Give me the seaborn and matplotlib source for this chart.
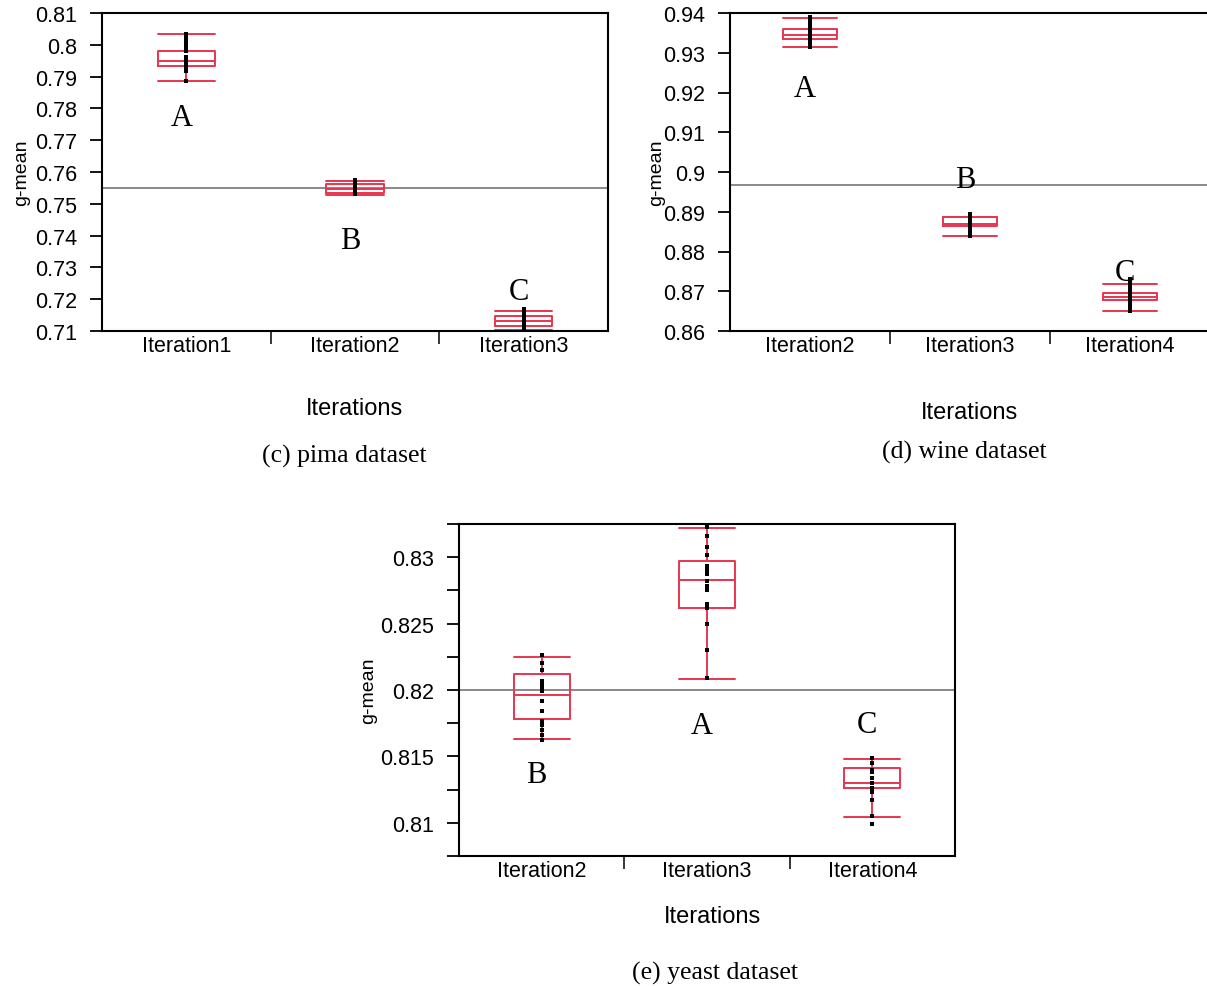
import matplotlib
matplotlib.use("Agg")
import matplotlib.pyplot as plt
import numpy as np
import pandas as pd
import seaborn as sns
from matplotlib.ticker import FixedLocator, FuncFormatter, MultipleLocator

sns.set_theme(style="white")
plt.rcParams["font.family"] = ["Liberation Sans", "DejaVu Sans"]

# ---------------- data ----------------
# (c) pima dataset
pima_iters = ["Iteration1", "Iteration2", "Iteration3"]
pima_whislo = [0.7885, 0.7528, 0.7104]
pima_q1 = [0.7934, 0.7534, 0.7115]
pima_med = [0.7948, 0.7548, 0.7131]
pima_q3 = [0.7981, 0.7562, 0.7148]
pima_whishi = [0.8034, 0.7572, 0.7162]
pima_points_1 = [0.8034, 0.8025, 0.8018, 0.8010, 0.8003, 0.7995, 0.7988, 0.7980,
                 0.7962, 0.7955, 0.7948, 0.7940, 0.7932, 0.7925, 0.7918, 0.7885]
pima_points_2 = [0.7575, 0.7568, 0.7562, 0.7556, 0.7551, 0.7546, 0.7541, 0.7536, 0.7532]
pima_points_3 = [0.7169, 0.7160, 0.7152, 0.7145, 0.7138, 0.7131, 0.7124, 0.7117, 0.7110, 0.7103]
pima_letters = ["A", "B", "C"]
pima_letter_y = [0.7770, 0.7385, 0.7225]
pima_mean = 0.755

# (d) wine dataset
wine_iters = ["Iteration2", "Iteration3", "Iteration4"]
wine_whislo = [0.9315, 0.8840, 0.8651]
wine_q1 = [0.9335, 0.8865, 0.8679]
wine_med = [0.9345, 0.8870, 0.8686]
wine_q3 = [0.9360, 0.8886, 0.8696]
wine_whishi = [0.9387, 0.8888, 0.8718]
wine_points_2 = [0.9390, 0.9380, 0.9370, 0.9361, 0.9352, 0.9342, 0.9332, 0.9322, 0.9314]
wine_points_3 = [0.8894, 0.8886, 0.8878, 0.8870, 0.8862, 0.8854, 0.8846, 0.8838]
wine_points_4 = [0.8730, 0.8720, 0.8710, 0.8700, 0.8690, 0.8680, 0.8670, 0.8660, 0.8650]
wine_letters = ["A", "B", "C"]
wine_letter_y = [0.9210, 0.8982, 0.8748]
wine_mean = 0.8967

# (e) yeast dataset
yeast_iters = ["Iteration2", "Iteration3", "Iteration4"]
yeast_whislo = [0.8163, 0.8208, 0.8104]
yeast_q1 = [0.8178, 0.8262, 0.8126]
yeast_med = [0.8196, 0.8283, 0.8130]
yeast_q3 = [0.8212, 0.8297, 0.8141]
yeast_whishi = [0.8225, 0.8322, 0.8148]
yeast_points_2 = [0.8226, 0.8220, 0.8215, 0.8207, 0.8205, 0.8203, 0.8201, 0.8199,
                  0.8192, 0.8184, 0.8177, 0.8174, 0.8170, 0.8166, 0.8162]
yeast_points_3 = [0.8323, 0.8316, 0.8308, 0.8302, 0.8293, 0.8290, 0.8287, 0.8282,
                  0.8278, 0.8275, 0.8265, 0.8262, 0.8250, 0.8230, 0.8209]
yeast_points_4 = [0.8149, 0.8145, 0.8140, 0.8139, 0.8138, 0.8134, 0.8130, 0.8126,
                  0.8123, 0.8117, 0.8105, 0.8099]
yeast_letters = ["B", "A", "C"]
yeast_letter_y = [0.8136, 0.8173, 0.8174]
yeast_mean = 0.82

RED = "#E8364F"
GREY = "#808080"

fig = plt.figure(figsize=(12.07, 9.87), dpi=100)
W, H = 1207.0, 987.0


def make_axes(left, right, top, bottom):
    return fig.add_axes([left / W, 1 - bottom / H, (right - left) / W, (bottom - top) / H])


def fmt(v, pos):
    return "{:g}".format(round(v, 4))


def draw_panel(ax, iters, points, whislo, q1, med, q3, whishi, letters, letter_y,
               mean, ylim, major, minor, ylabel_x, xlabel_y, xlabel_x,
               show_right=True):
    rows = []
    for it, pts in zip(iters, points):
        for p in pts:
            rows.append({"iteration": it, "gmean": p})
    df = pd.DataFrame(rows)
    sns.stripplot(data=df, x="iteration", y="gmean", order=iters, jitter=False,
                  marker="s", size=3.2, color="black", linewidth=0, ax=ax, zorder=4)
    stats = []
    for i in range(len(iters)):
        stats.append(dict(med=med[i], q1=q1[i], q3=q3[i], whislo=whislo[i],
                          whishi=whishi[i], fliers=[]))
    lp = dict(color=RED, linewidth=1.4)
    ax.bxp(stats, positions=range(len(iters)), widths=0.34, capwidths=0.34,
           showfliers=False, manage_ticks=False, boxprops=lp, whiskerprops=lp,
           capprops=lp, medianprops=lp)
    ax.axhline(mean, color=GREY, linewidth=1.3, zorder=1)
    for i, (l, y) in enumerate(zip(letters, letter_y)):
        ax.text(i - 0.03, y, l, ha="center", va="center",
                fontfamily="Liberation Serif", fontsize=22, color="black")
    ax.set_xlim(-0.5, len(iters) - 0.5)
    ax.set_ylim(*ylim)
    ax.yaxis.set_major_locator(MultipleLocator(major))
    if minor:
        ax.yaxis.set_minor_locator(MultipleLocator(minor))
    ax.yaxis.set_major_formatter(FuncFormatter(fmt))
    ax.tick_params(axis="y", which="both", direction="out", length=9, width=1.3,
                   labelsize=15.5, pad=9, colors="black", left=True)
    ax.xaxis.set_minor_locator(FixedLocator([0.5, 1.5]))
    ax.tick_params(axis="x", which="major", length=0, labelsize=15.5, pad=3,
                   colors="black", bottom=True)
    ax.tick_params(axis="x", which="minor", direction="out", length=9, width=1.3,
                   bottom=True)
    for s in ["left", "bottom", "top", "right"]:
        ax.spines[s].set_visible(True)
        ax.spines[s].set_color("black")
        ax.spines[s].set_linewidth(1.5)
    if not show_right:
        ax.spines["right"].set_visible(False)
    ax.set_xlabel("Iterations", fontsize=17, color="black")
    ax.set_ylabel("g-mean", fontsize=14, color="black")
    ax.yaxis.set_label_coords(ylabel_x, 0.5)
    ax.xaxis.set_label_coords(xlabel_x, xlabel_y)
    ax.grid(False)


ax_c = make_axes(102, 608, 14, 332)
draw_panel(ax_c, pima_iters, [pima_points_1, pima_points_2, pima_points_3],
           pima_whislo, pima_q1, pima_med, pima_q3, pima_whishi,
           pima_letters, pima_letter_y, pima_mean, (0.71, 0.81), 0.01, None,
           -0.142, -0.208, 0.5)

ax_d = make_axes(730, 1210, 14, 332)
draw_panel(ax_d, wine_iters, [wine_points_2, wine_points_3, wine_points_4],
           wine_whislo, wine_q1, wine_med, wine_q3, wine_whishi,
           wine_letters, wine_letter_y, wine_mean, (0.86, 0.94), 0.01, None,
           -0.135, -0.220, 0.5, show_right=False)

ax_e = make_axes(459, 955, 525, 857)
draw_panel(ax_e, yeast_iters, [yeast_points_2, yeast_points_3, yeast_points_4],
           yeast_whislo, yeast_q1, yeast_med, yeast_q3, yeast_whishi,
           yeast_letters, yeast_letter_y, yeast_mean, (0.8075, 0.8325), 0.005, 0.0025,
           -0.165, -0.148, 0.511)

fig.text(344 / W, 1 - 456 / H, "(c) pima dataset", ha="center", va="center",
         fontfamily="Liberation Serif", fontsize=18.5, color="black")
fig.text(964 / W, 1 - 452 / H, "(d) wine dataset", ha="center", va="center",
         fontfamily="Liberation Serif", fontsize=18.5, color="black")
fig.text(715 / W, 1 - 973 / H, "(e) yeast dataset", ha="center", va="center",
         fontfamily="Liberation Serif", fontsize=18.5, color="black")

fig.savefig("out.png", dpi=100)
